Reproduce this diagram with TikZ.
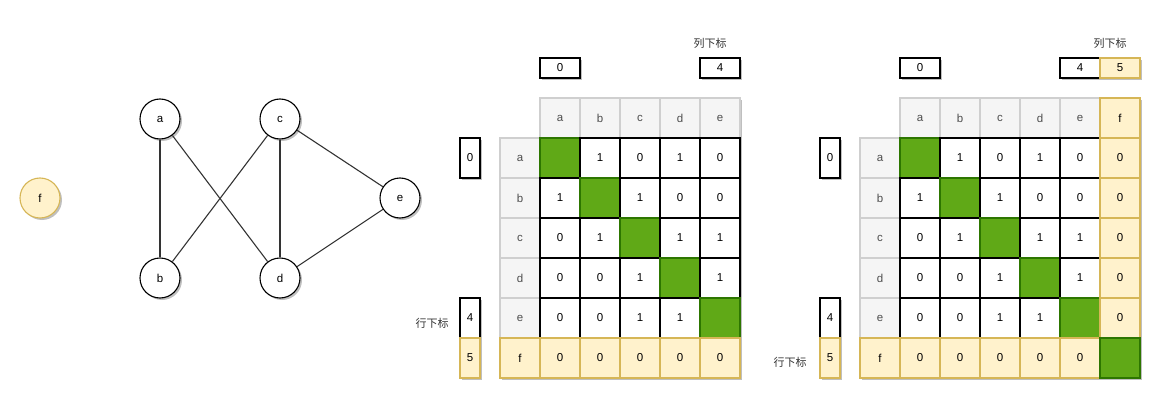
\documentclass[tikz,border=0pt]{standalone}
\usepackage{fontspec}
\setmainfont{Liberation Sans}
\newfontfamily\cjk{Noto Sans CJK SC}
\usetikzlibrary{shadows}
\definecolor{hdrfill}{HTML}{F5F5F5}
\definecolor{hdrline}{HTML}{CFCFCF}
\definecolor{yfill}{HTML}{FFF2CC}
\definecolor{yline}{HTML}{D6B656}
\definecolor{gfill}{HTML}{60A917}
\definecolor{gline}{HTML}{2D7600}
\definecolor{hdrtxt}{HTML}{4D4D4D}
\definecolor{edgec}{HTML}{333333}
\begin{document}
\begin{tikzpicture}[x=1pt,y=-1pt,font=\fontsize{11.5}{13}\selectfont,
  shd/.style={drop shadow={shadow xshift=2pt,shadow yshift=-2pt,opacity=0.25,fill=black}},
  vtx/.style={circle,draw=black,fill=white,minimum size=40pt,inner sep=0pt,line width=1.1pt,shd},
  yvtx/.style={vtx,fill=yfill,draw=yline},
  edge/.style={draw=edgec,line width=1.1pt},
  cellbase/.style={rectangle,minimum width=40pt,minimum height=40pt,inner sep=0pt,outer sep=0pt,line width=1.1pt,shd},
  wcell/.style={cellbase,fill=white,draw=black},
  hcell/.style={cellbase,fill=hdrfill,draw=hdrline,text=hdrtxt},
  ycell/.style={cellbase,fill=yfill,draw=yline},
  gcell/.style={cellbase,fill=gfill,draw=gline},
  colidx/.style={rectangle,minimum width=40pt,minimum height=20pt,inner sep=0pt,fill=white,draw=black,line width=1.1pt,shd},
  ycolidx/.style={colidx,fill=yfill,draw=yline},
  rowidx/.style={rectangle,minimum width=20pt,minimum height=40pt,inner sep=0pt,fill=white,draw=black,line width=1.1pt,shd},
  yrowidx/.style={rowidx,fill=yfill,draw=yline},
  lbl/.style={font=\cjk\fontsize{11}{13}\selectfont,text=edgec,inner sep=0pt}
]
\useasboundingbox (0,0) rectangle (1167,417);

% ---------- graph ----------
\node[vtx] (a) at (160,119) {a};
\node[vtx] (c) at (280,119) {c};
\node[vtx] (b) at (160,278) {b};
\node[vtx] (d) at (280,278) {d};
\node[vtx] (e) at (400,198) {e};
\node[yvtx] (f) at (40,198) {f};
\draw[edge] (a) -- (b);
\draw[edge] (a) -- (d);
\draw[edge] (c) -- (b);
\draw[edge] (c) -- (d);
\draw[edge] (c) -- (e);
\draw[edge] (d) -- (e);

% ---------- matrix A ----------
\node[lbl] (Acl) at (710,43) {列下标};
\node[colidx] (Ac0) at (560,68) {0};
\node[colidx] (Ac4) at (720,68) {4};
\node[lbl] (Arl) at (432,323) {行下标};
\foreach \l [count=\i] in {a,b,c,d,e}
  \node[hcell] (Ah\l) at ({520+40*\i},118) {\l};
\foreach \r/\vals [count=\j] in {a/{g,1,0,1,0},b/{1,g,1,0,0},c/{0,1,g,1,1},d/{0,0,1,g,1},e/{0,0,1,1,g}}{
  \node[hcell] (A\r) at (520,{118+40*\j}) {\r};
  \foreach \v [count=\i] in \vals {
    \if g\v
      \node[gcell] (A\r\i) at ({520+40*\i},{118+40*\j}) {};
    \else
      \node[wcell] (A\r\i) at ({520+40*\i},{118+40*\j}) {\v};
    \fi
  }
}
\node[ycell] (Af) at (520,358) {f};
\foreach \i in {1,...,5}
  \node[ycell] (Af\i) at ({520+40*\i},358) {0};
\node[rowidx] (Ar0) at (470,158) {0};
\node[rowidx] (Ar4) at (470,318) {4};
\node[yrowidx] (Ar5) at (470,358) {5};

% ---------- matrix B ----------
\node[lbl] (Bcl) at (1110,43) {列下标};
\node[colidx] (Bc0) at (920,68) {0};
\node[colidx] (Bc4) at (1080,68) {4};
\node[ycolidx] (Bc5) at (1120,68) {5};
\node[lbl] (Brl) at (790,362) {行下标};
\foreach \l [count=\i] in {a,b,c,d,e}
  \node[hcell] (Bh\l) at ({880+40*\i},118) {\l};
\node[ycell] (Bhf) at (1120,118) {f};
\foreach \r/\vals [count=\j] in {a/{g,1,0,1,0},b/{1,g,1,0,0},c/{0,1,g,1,1},d/{0,0,1,g,1},e/{0,0,1,1,g}}{
  \node[hcell] (B\r) at (880,{118+40*\j}) {\r};
  \foreach \v [count=\i] in \vals {
    \if g\v
      \node[gcell] (B\r\i) at ({880+40*\i},{118+40*\j}) {};
    \else
      \node[wcell] (B\r\i) at ({880+40*\i},{118+40*\j}) {\v};
    \fi
  }
  \node[ycell] (B\r6) at (1120,{118+40*\j}) {0};
}
\node[ycell] (Bf) at (880,358) {f};
\foreach \i in {1,...,5}
  \node[ycell] (Bf\i) at ({880+40*\i},358) {0};
\node[gcell] (Bf6) at (1120,358) {};
\node[rowidx] (Br0) at (830,158) {0};
\node[rowidx] (Br4) at (830,318) {4};
\node[yrowidx] (Br5) at (830,358) {5};
\end{tikzpicture}
\end{document}
